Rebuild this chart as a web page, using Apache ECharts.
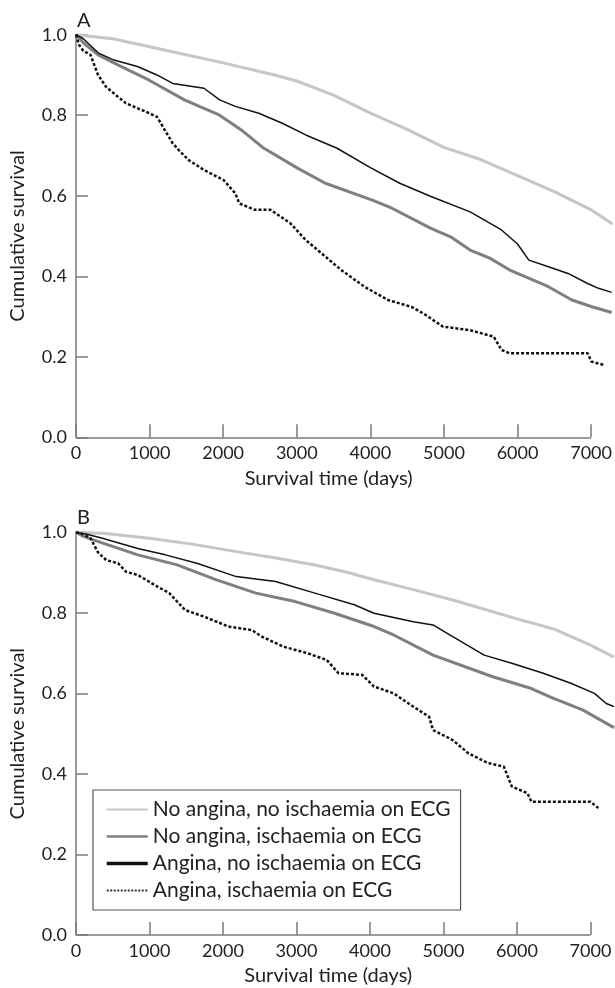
<!DOCTYPE html>
<html><head><meta charset="utf-8">
<script src="https://cdn.jsdelivr.net/npm/echarts@6/dist/echarts.min.js"></script>
<style>html,body{margin:0;padding:0;background:#fff}#c{width:615px;height:988px}</style>
</head><body><div id="c"></div>
<script>
// ---- Data ----
const seriesNames = [
  'No angina, no ischaemia on ECG',
  'No angina, ischaemia on ECG',
  'Angina, no ischaemia on ECG',
  'Angina, ischaemia on ECG'
];
const panelLabels = ['A', 'B'];
const xTickValues = [0, 1000, 2000, 3000, 4000, 5000, 6000, 7000];
const yTickValues = [0, 0.2, 0.4, 0.6, 0.8, 1.0];
const xAxisTitle = 'Survival time (days)';
const yAxisTitle = 'Cumulative survival';

// Panel A: [days, cumulative survival]
const aNoAnginaNoIsch = [[0,1.0],[500,0.99],[1000,0.97],[1370,0.955],[2000,0.93],[2700,0.90],[3000,0.885],[3500,0.85],[4000,0.805],[4500,0.765],[5000,0.72],[5500,0.69],[6000,0.65],[6500,0.61],[7000,0.565],[7290,0.53]];
const aNoAnginaIsch = [[0,1.0],[100,0.98],[300,0.95],[569,0.925],[995,0.887],[1473,0.838],[1952,0.80],[2271,0.76],[2537,0.72],[3016,0.668],[3388,0.631],[4027,0.589],[4293,0.569],[4824,0.519],[5090,0.498],[5356,0.465],[5622,0.445],[5888,0.416],[6420,0.374],[6739,0.341],[7000,0.325],[7280,0.31]];
const aAnginaNoIsch = [[0,1.0],[100,0.99],[300,0.955],[516,0.937],[835,0.921],[1100,0.90],[1314,0.879],[1739,0.867],[1952,0.838],[2165,0.822],[2484,0.805],[2803,0.78],[3122,0.751],[3548,0.718],[4000,0.67],[4399,0.631],[4824,0.598],[5356,0.56],[5782,0.515],[6000,0.48],[6154,0.44],[6400,0.425],[6686,0.407],[6952,0.382],[7100,0.37],[7280,0.36]];
const aAnginaIsch = [[0,1.0],[40,0.975],[100,0.96],[197,0.95],[300,0.90],[410,0.87],[569,0.846],[676,0.83],[995,0.805],[1101,0.796],[1314,0.73],[1394,0.714],[1527,0.689],[1739,0.664],[2005,0.639],[2165,0.606],[2218,0.581],[2431,0.565],[2644,0.565],[2910,0.532],[3122,0.49],[3388,0.449],[3601,0.416],[3920,0.374],[4239,0.341],[4559,0.324],[4718,0.308],[4984,0.275],[5356,0.266],[5676,0.25],[5782,0.217],[5888,0.209],[6952,0.209],[7005,0.188],[7165,0.18]];

// Panel B
const bNoAnginaNoIsch = [[0,1.0],[400,0.997],[1000,0.985],[1600,0.97],[2180,0.952],[2700,0.937],[3251,0.919],[3700,0.90],[4055,0.882],[4600,0.857],[5126,0.832],[5500,0.812],[6000,0.785],[6500,0.76],[7000,0.72],[7320,0.69]];
const bNoAnginaIsch = [[0,1.0],[100,0.99],[305,0.977],[841,0.944],[1377,0.919],[1912,0.882],[2448,0.849],[2983,0.828],[3519,0.799],[4055,0.766],[4322,0.745],[4858,0.695],[5661,0.642],[6197,0.612],[6465,0.59],[6893,0.559],[7320,0.515]];
const bAnginaNoIsch = [[0,1.0],[150,0.995],[359,0.985],[841,0.96],[1216,0.944],[1644,0.923],[2180,0.89],[2716,0.878],[3251,0.849],[3787,0.82],[4055,0.799],[4590,0.778],[4858,0.77],[5126,0.741],[5554,0.695],[5929,0.675],[6358,0.65],[6733,0.625],[7054,0.60],[7215,0.575],[7320,0.567]];
const bAnginaIsch = [[0,1.0],[100,0.995],[198,0.985],[300,0.95],[412,0.931],[573,0.923],[680,0.902],[841,0.894],[1109,0.865],[1269,0.849],[1484,0.807],[1751,0.79],[2073,0.766],[2394,0.757],[2528,0.741],[2823,0.716],[3144,0.70],[3412,0.683],[3573,0.65],[3894,0.646],[4055,0.617],[4322,0.60],[4590,0.567],[4805,0.542],[4858,0.509],[5126,0.484],[5340,0.451],[5608,0.427],[5822,0.418],[5929,0.369],[6144,0.352],[6197,0.331],[7000,0.331],[7108,0.315]];

const panelData = [
  [aNoAnginaNoIsch, aNoAnginaIsch, aAnginaNoIsch, aAnginaIsch],
  [bNoAnginaNoIsch, bNoAnginaIsch, bAnginaNoIsch, bAnginaIsch]
];

// ---- Styles ----
const FONT = 'Lato';
const AXIS_COLOR = '#7a7a7a';
const TEXT_COLOR = '#222';
const lineStyles = [
  {color: '#c6c6c6', width: 3, type: 'solid'},
  {color: '#7f7f7f', width: 3, type: 'solid'},
  {color: '#111', width: 1.5, type: 'solid'},
  {color: '#111', width: 2.5, type: [3, 2], cap: 'butt'}
];
const legendLineStyles = [
  {color: '#c6c6c6', width: 2},
  {color: '#7f7f7f', width: 2.5},
  {color: '#111', width: 3.5},
  {color: '#333', width: 2, type: [2, 1.5]}
];

const grids = [
  {left: 76, top: 34.7, width: 540, height: 402.6},
  {left: 76, top: 532.3, width: 536.5, height: 402.7}
];
const X_MAX = 7300;

const xAxes = grids.map((g, i) => ({
  type: 'value', gridIndex: i, min: 0, max: X_MAX, interval: 1000,
  axisLine: {show: false},
  axisTick: {show: true, inside: true, length: 13, customValues: xTickValues, lineStyle: {color: AXIS_COLOR, width: 1.5}},
  axisLabel: {show: true, margin: 7, customValues: xTickValues, fontFamily: FONT, fontSize: 18, color: TEXT_COLOR, formatter: v => String(v)},
  splitLine: {show: false},
  name: xAxisTitle, nameLocation: 'middle', nameGap: 31,
  nameTextStyle: {fontFamily: FONT, fontSize: 20, color: TEXT_COLOR, padding: [0, 32, 0, 0]}
}));
const yAxes = grids.map((g, i) => ({
  type: 'value', gridIndex: i, min: 0, max: 1, interval: 0.2,
  axisLine: {show: true, lineStyle: {color: AXIS_COLOR, width: 1.5}},
  axisTick: {show: true, inside: true, length: 12, lineStyle: {color: AXIS_COLOR, width: 1.5}},
  axisLabel: {margin: 9, fontFamily: FONT, fontSize: 18, color: TEXT_COLOR, formatter: v => v.toFixed(1)},
  splitLine: {show: false},
  name: yAxisTitle, nameLocation: 'middle', nameGap: 48, nameRotate: 90,
  nameTextStyle: {fontFamily: FONT, fontSize: 20, color: TEXT_COLOR}
}));

const series = [];
panelData.forEach((arr, p) => {
  arr.forEach((data, k) => {
    series.push({
      name: seriesNames[k], type: 'line', xAxisIndex: p, yAxisIndex: p,
      data: data, symbol: 'none', showSymbol: false, clip: false,
      lineStyle: lineStyles[k], itemStyle: {color: lineStyles[k].color},
      emphasis: {disabled: true}, animation: false, z: 2 + k
    });
  });
  // x-axis baseline from 0 to last tick
  series.push({
    type: 'line', xAxisIndex: p, yAxisIndex: p, data: [], silent: true, animation: false,
    markLine: {
      silent: true, symbol: 'none', animation: false, label: {show: false},
      lineStyle: {color: AXIS_COLOR, width: 1.5, type: 'solid'},
      emphasis: {disabled: true},
      data: [[{coord: [xTickValues[0], 0]}, {coord: [xTickValues[xTickValues.length - 1], 0]}]]
    }
  });
});

const option = {
  backgroundColor: '#fff',
  animation: false,
  title: [
    {text: panelLabels[0], left: 77, top: 11, padding: 0, textStyle: {fontFamily: FONT, fontSize: 20, fontWeight: 'normal', color: TEXT_COLOR}},
    {text: panelLabels[1], left: 77, top: 508, padding: 0, textStyle: {fontFamily: FONT, fontSize: 20, fontWeight: 'normal', color: TEXT_COLOR}}
  ],
  grid: grids,
  xAxis: xAxes,
  yAxis: yAxes,
  legend: {
    orient: 'vertical', left: 93, top: 790,
    padding: [9, 10, 9, 12], itemGap: 6, itemWidth: 41, itemHeight: 14,
    borderColor: '#555', borderWidth: 1.2, backgroundColor: '#fff',
    selectedMode: false,
    textStyle: {fontFamily: FONT, fontSize: 21, color: TEXT_COLOR},
    data: seriesNames.map((n, k) => ({
      name: n,
      lineStyle: legendLineStyles[k],
      itemStyle: {color: 'rgba(0,0,0,0)', borderWidth: 0, opacity: 0}
    }))
  },
  series: series
};

const chart = echarts.init(document.getElementById('c'), null, {renderer: 'canvas'});
chart.setOption(option);
</script>
</body></html>
